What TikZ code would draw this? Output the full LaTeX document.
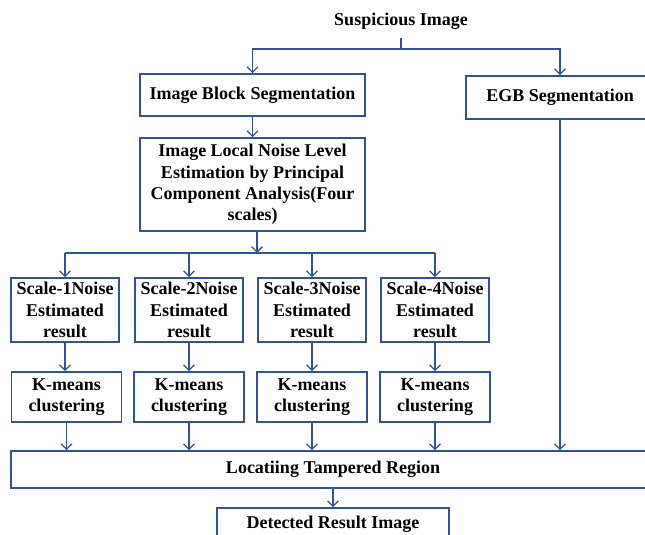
\documentclass[tikz,border=0pt]{standalone}
\usepackage{fontspec}
\setmainfont{Liberation Serif}
\usetikzlibrary{arrows.meta}
\definecolor{lineblue}{RGB}{47,85,151}
\begin{document}
\begin{tikzpicture}[x=1pt,y=-1pt,
  lbl/.style={font=\fontsize{18}{21.3}\selectfont\bfseries},
  box/.style={lbl, draw=lineblue, line width=1.6pt, rectangle, align=center, inner sep=0pt},
  arr/.style={draw=lineblue, line width=1.3pt, -{Straight Barb[length=5.5pt,width=11pt]}},
  conn/.style={draw=lineblue, line width=1.3pt}]
\useasboundingbox (0,0) rectangle (645,535);
\clip (0,0) rectangle (645,535);

\node[lbl, inner xsep=0pt, inner ysep=8pt, text height=12pt, text depth=4pt] (sus) at (401,22) {Suspicious Image};
\node[box, minimum width=225pt, minimum height=42pt] (ibs) at (252.5,95) {Image Block Segmentation};
\node[box, minimum width=188pt, minimum height=43pt] (egb) at (560,97.5) {EGB Segmentation};
\node[box, minimum width=225pt, minimum height=93pt] (noise) at (252.5,184.5) {Image Local Noise Level\\Estimation by Principal\\Component Analysis(Four\\scales)};

\node[box, minimum width=108pt, minimum height=64pt] (s1) at (65,310) {Scale-1Noise\\Estimated\\result};
\node[box, minimum width=108pt, minimum height=64pt] (s2) at (189,310) {Scale-2Noise\\Estimated\\result};
\node[box, minimum width=108pt, minimum height=64pt] (s3) at (312,310) {Scale-3Noise\\Estimated\\result};
\node[box, minimum width=108pt, minimum height=64pt] (s4) at (435,310) {Scale-4Noise\\Estimated\\result};

\node[box, minimum width=110pt, minimum height=50pt] (k1) at (66.5,397) {K-means\\clustering};
\node[box, minimum width=110pt, minimum height=50pt] (k2) at (189,397) {K-means\\clustering};
\node[box, minimum width=110pt, minimum height=50pt] (k3) at (312,397) {K-means\\clustering};
\node[box, minimum width=110pt, minimum height=50pt] (k4) at (435,397) {K-means\\clustering};

\node[box, minimum width=644pt, minimum height=37pt] (loc) at (333,469.5) {Locatiing Tampered Region};
\node[box, minimum width=232pt, minimum height=33pt] (det) at (333,524.5) {Detected Result Image};

\coordinate (j1) at (401,49);
\draw[conn] (sus.south) -- (j1);
\draw[arr] (j1) -| (ibs.north);
\draw[arr] (j1) -| (egb.north);
\draw[arr] (ibs) -- (noise);

\coordinate (j2) at (257,253);
\draw[arr] (noise.south -| j2) -- (j2);
\draw[conn] (s1.north |- j2) -- (s4.north |- j2);
\foreach \i in {1,2,3,4} {
  \draw[arr] (s\i.north |- j2) -- (s\i.north);
  \draw[arr] (s\i.south) -- (s\i.south |- k\i.north);
  \draw[arr] (k\i.south) -- (k\i.south |- loc.north);
}
\draw[arr] (egb.south) -- (egb.south |- loc.north);
\draw[arr] (loc) -- (det);
\end{tikzpicture}
\end{document}
